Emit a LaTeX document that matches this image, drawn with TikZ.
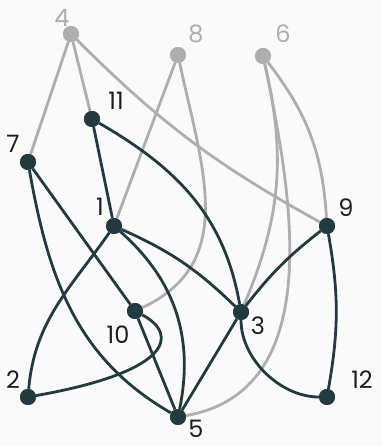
\documentclass[tikz,border=0pt]{standalone}
\usepackage{fontspec}
\setmainfont{Poppins}
\definecolor{ink}{HTML}{233A3F}
\definecolor{faded}{HTML}{AEAEAE}
\definecolor{paper}{HTML}{FAFAFA}
\definecolor{numtext}{HTML}{1E1E1E}
\tikzset{
  dot/.style={circle,fill=ink,inner sep=0pt,minimum size=16pt},
  gdot/.style={dot,fill=faded},
  edge/.style={draw=ink,line width=2.8pt},
  gedge/.style={draw=faded,line width=2.8pt},
  lbl/.style={font=\fontsize{24}{28}\selectfont,text=numtext,inner sep=0pt},
  glbl/.style={lbl,text=faded}
}
\begin{document}
\begin{tikzpicture}[x=1pt,y=1pt]
\fill[paper] (0,0) rectangle (381,446);
\useasboundingbox (0,0) rectangle (381,446);
% vertices
    \node[gdot](n4) at (71,412){};
    \node[gdot](n8) at (178,391){};
    \node[gdot](n6) at (263,390){};
    \node[dot](n11) at (92,327){};
    \node[dot](n7) at (28,284){};
    \node[dot](n1) at (114,220){};
    \node[dot](n9) at (327,220){};
    \node[dot](n10) at (135,135){};
    \node[dot](n3) at (241,134){};
    \node[dot](n2) at (28,49){};
    \node[dot](n5) at (178,29){};
    \node[dot](n12) at (327,49){};
% labels
    \node[glbl](l4) at (62,428){4};
    \node[glbl](l8) at (196,412){8};
    \node[glbl](l6) at (283,412){6};
    \node[lbl](l11) at (116,345){11};
    \node[lbl](l7) at (13,302){7};
    \node[lbl](l1) at (100,239){1};
    \node[lbl](l9) at (346,238){9};
    \node[lbl](l10) at (118,111){10};
    \node[lbl](l3) at (258,120){3};
    \node[lbl](l2) at (13,66){2};
    \node[lbl](l5) at (196,17){5};
    \node[lbl](l12) at (362,66){12};
% grey edges
    \draw[gedge](n4)--(n7) (n4)--(n11) (n8)--(n1);
    \draw[gedge](n4) to[bend right=8] (n9);
    \draw[gedge](n8) to[out=-78,in=25,looseness=1.1] (n10);
    \draw[gedge](n6) to[bend left=18] (n3);
    \draw[gedge](n6) to[out=-78,in=10,looseness=1] (n5);
    \draw[gedge](n6) to[bend left=17] (n9);
% dark edges
    \draw[edge](n11)--(n1) (n7)--(n10) (n10)--(n5) (n3)--(n5);
    \draw[edge](n11) to[out=-30,in=100] (n3);
    \draw[edge](n1) to[bend left=10] (n3);
    \draw[edge](n3) to[bend left=7] (n9);
    \draw[edge](n9) to[bend left=10] (n12);
    \draw[edge](n3) to[out=-90,in=180,looseness=0.9] (n12);
    \draw[edge](n1) to[bend left=30] (n5);
    \draw[edge](n7) to[out=-80,in=150] (n5);
    \draw[edge](n1) to[out=-125,in=85] (n2);
    \draw[edge](n10) .. controls (180,111) and (170,74) .. (n2);
% redraw vertices on top
    \foreach \v in {n4,n8,n6}{\fill[faded] (\v) circle (8pt);}
    \foreach \v in {n11,n7,n1,n9,n10,n3,n2,n5,n12}{\fill[ink] (\v) circle (8pt);}
\end{tikzpicture}
\end{document}
